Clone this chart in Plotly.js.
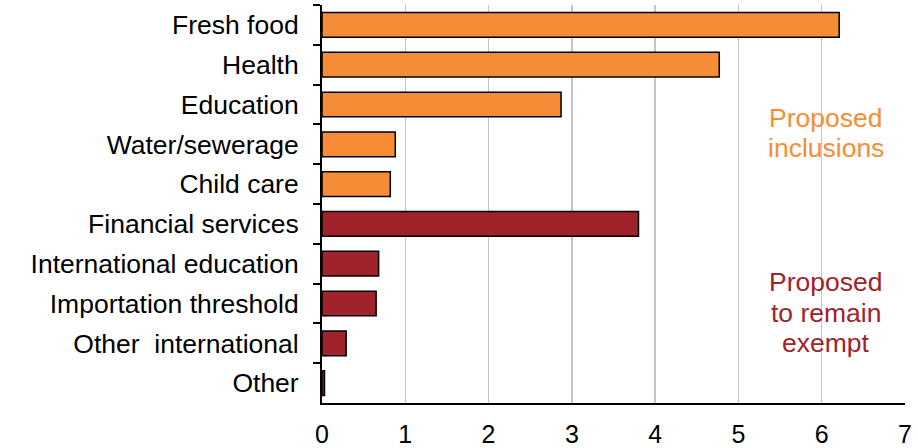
<!DOCTYPE html>
<html>
<head>
<meta charset="utf-8">
<script src="https://cdn.plot.ly/plotly-3.0.1.min.js"></script>
<style>html,body{margin:0;padding:0;background:#fff;}#chart{width:918px;height:448px;}</style>
</head>
<body>
<div id="chart"></div>
<script>
var inclCategories = ["Fresh food", "Health", "Education", "Water/sewerage", "Child care"];
var inclValues = [6.21, 4.77, 2.87, 0.88, 0.82];
var exemptCategories = ["Financial services", "International education", "Importation threshold", "Other  international", "Other"];
var exemptValues = [3.80, 0.68, 0.65, 0.29, 0.03];
var xTicks = [0, 1, 2, 3, 4, 5, 6, 7];
var inclLabelLines = ["Proposed", "inclusions"];
var exemptLabelLines = ["Proposed", "to remain", "exempt"];

var allCats = inclCategories.concat(exemptCategories);
var font = "Liberation Sans, Arial, sans-serif";
var orange = "#F68D36", red = "#A0222A";

var traces = [
  {type: "bar", orientation: "h", y: inclCategories, x: inclValues,
   marker: {color: orange, line: {color: "#000", width: 1.5}}, hoverinfo: "x+y"},
  {type: "bar", orientation: "h", y: exemptCategories, x: exemptValues,
   marker: {color: red, line: {color: "#000", width: 1.5}}, hoverinfo: "x+y"}
];

function lineAnn(lines, ys, color) {
  return lines.map(function (t, i) {
    return {xref: "x", yref: "paper", x: 6.05, y: ys[i], text: t, showarrow: false,
            xanchor: "center", yanchor: "middle", align: "center",
            font: {family: font, size: 26.5, color: color}};
  });
}

var layout = {
  width: 918, height: 448,
  margin: {l: 322, r: 13, t: 5, b: 45},
  paper_bgcolor: "#fff", plot_bgcolor: "#fff",
  showlegend: false,
  barmode: "overlay",
  bargap: 0.38,
  font: {family: font, size: 24, color: "#000"},
  xaxis: {
    range: [0, 7], tickvals: xTicks, ticktext: xTicks.map(String),
    showgrid: true, gridcolor: "#c4c4c4", gridwidth: 1.5,
    zeroline: false, showline: true, linecolor: "#000", linewidth: 2,
    ticks: "", ticklabelstandoff: 8,
    tickfont: {family: font, size: 25, color: "#000"},
    fixedrange: true
  },
  yaxis: {
    type: "category", categoryorder: "array", categoryarray: allCats,
    autorange: "reversed",
    showgrid: false, zeroline: false, showline: true, linecolor: "#000", linewidth: 2,
    ticks: "outside", tickson: "boundaries", ticklen: 7, tickwidth: 2, tickcolor: "#000",
    ticklabelstandoff: 16,
    tickfont: {family: font, size: 26.5, color: "#000"},
    fixedrange: true
  },
  annotations: lineAnn(inclLabelLines, [0.716, 0.641], orange)
    .concat(lineAnn(exemptLabelLines, [0.304, 0.227, 0.150], red))
};

Plotly.newPlot("chart", traces, layout, {displayModeBar: false, staticPlot: true});
</script>
</body>
</html>
